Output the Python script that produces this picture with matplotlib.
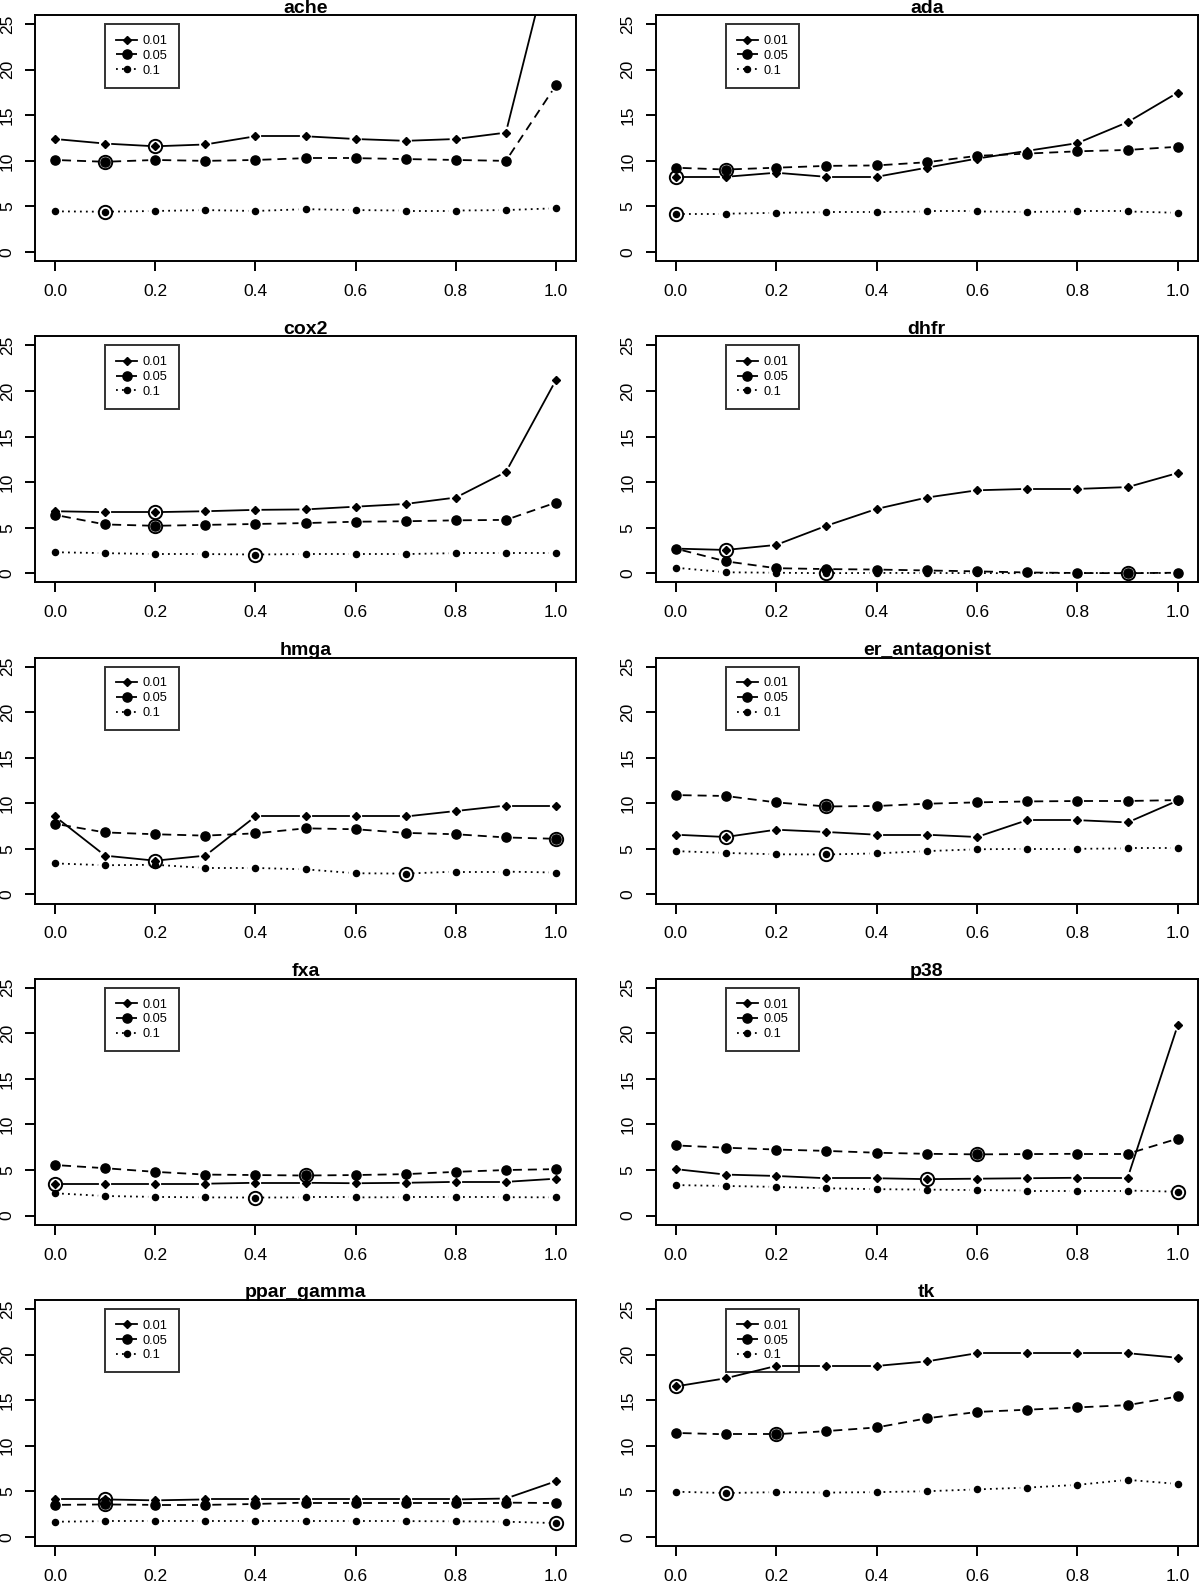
#small multiples of the three alpha runs, R style (type="b")
import numpy as np
import matplotlib
matplotlib.use("Agg")
import matplotlib.pyplot as plt
from matplotlib.lines import Line2D

plt.rcParams['font.family'] = ['Liberation Sans', 'DejaVu Sans']
plt.rcParams['lines.scale_dashes'] = False

x = [0.0, 0.1, 0.2, 0.3, 0.4, 0.5, 0.6, 0.7, 0.8, 0.9, 1.0]
xticks = [0.0, 0.2, 0.4, 0.6, 0.8, 1.0]
xtick_labels = ["0.0", "0.2", "0.4", "0.6", "0.8", "1.0"]
yticks = [0, 5, 10, 15, 20, 25]
series_labels = ["0.01", "0.05", "0.1"]

#values per data set: one list per alpha
ache_001 = [12.4, 11.9, 11.6, 11.8, 12.7, 12.7, 12.4, 12.2, 12.4, 13.1, 35.0]
ache_005 = [10.1, 9.9, 10.1, 10.0, 10.1, 10.3, 10.3, 10.2, 10.1, 10.0, 18.3]
ache_010 = [4.46, 4.42, 4.5, 4.6, 4.5, 4.7, 4.6, 4.55, 4.55, 4.6, 4.8]
ache_best = [2, 1, 1]

ada_001 = [8.25, 8.25, 8.7, 8.25, 8.25, 9.25, 10.25, 11.1, 11.95, 14.25, 17.5]
ada_005 = [9.25, 9.05, 9.25, 9.45, 9.5, 9.85, 10.55, 10.8, 11.05, 11.2, 11.55]
ada_010 = [4.2, 4.2, 4.3, 4.37, 4.37, 4.45, 4.45, 4.4, 4.45, 4.45, 4.3]
ada_best = [0, 1, 0]

cox2_001 = [6.8, 6.7, 6.7, 6.8, 6.95, 7.0, 7.3, 7.6, 8.3, 11.1, 21.2]
cox2_005 = [6.4, 5.35, 5.2, 5.3, 5.4, 5.5, 5.65, 5.7, 5.8, 5.85, 7.75]
cox2_010 = [2.3, 2.2, 2.1, 2.1, 2.05, 2.1, 2.1, 2.1, 2.2, 2.2, 2.2]
cox2_best = [2, 2, 4]

dhfr_001 = [2.7, 2.55, 3.1, 5.2, 7.05, 8.3, 9.1, 9.25, 9.25, 9.45, 11.0]
dhfr_005 = [2.7, 1.3, 0.55, 0.45, 0.4, 0.3, 0.2, 0.08, 0.02, 0.0, 0.05]
dhfr_010 = [0.6, 0.1, 0.05, 0.0, 0.03, 0.02, 0.01, 0.0, 0.0, 0.0, 0.0]
dhfr_best = [1, 9, 3]

hmga_001 = [8.55, 4.25, 3.7, 4.25, 8.55, 8.55, 8.55, 8.55, 9.15, 9.75, 9.75]
hmga_005 = [7.75, 6.8, 6.6, 6.45, 6.7, 7.25, 7.15, 6.75, 6.6, 6.25, 6.1]
hmga_010 = [3.4, 3.2, 3.25, 2.9, 2.9, 2.75, 2.32, 2.28, 2.5, 2.5, 2.4]
hmga_best = [2, 10, 7]

er_001 = [6.55, 6.3, 7.1, 6.85, 6.55, 6.55, 6.3, 8.15, 8.15, 7.9, 10.3]
er_005 = [10.9, 10.8, 10.1, 9.65, 9.7, 9.95, 10.1, 10.2, 10.25, 10.25, 10.35]
er_010 = [4.75, 4.55, 4.4, 4.38, 4.5, 4.75, 4.95, 5.0, 5.0, 5.05, 5.05]
er_best = [1, 3, 3]

fxa_001 = [3.5, 3.5, 3.5, 3.5, 3.6, 3.6, 3.55, 3.6, 3.7, 3.7, 4.05]
fxa_005 = [5.55, 5.2, 4.8, 4.5, 4.45, 4.4, 4.45, 4.55, 4.8, 5.0, 5.1]
fxa_010 = [2.45, 2.15, 2.05, 2.0, 1.98, 2.0, 2.0, 2.02, 2.02, 2.02, 2.0]
fxa_best = [0, 5, 4]

p38_001 = [5.1, 4.5, 4.35, 4.1, 4.1, 4.0, 4.05, 4.1, 4.15, 4.15, 20.95]
p38_005 = [7.7, 7.45, 7.25, 7.1, 6.9, 6.78, 6.72, 6.75, 6.78, 6.78, 8.45]
p38_010 = [3.35, 3.25, 3.15, 3.0, 2.9, 2.85, 2.8, 2.75, 2.75, 2.75, 2.62]
p38_best = [5, 6, 10]

ppar_001 = [4.1, 4.1, 4.0, 4.1, 4.1, 4.1, 4.1, 4.1, 4.1, 4.2, 6.1]
ppar_005 = [3.5, 3.55, 3.5, 3.5, 3.6, 3.75, 3.75, 3.75, 3.75, 3.75, 3.7]
ppar_010 = [1.65, 1.72, 1.72, 1.72, 1.72, 1.72, 1.72, 1.72, 1.7, 1.66, 1.5]
ppar_best = [1, 1, 10]

tk_001 = [16.5, 17.4, 18.75, 18.75, 18.75, 19.25, 20.15, 20.15, 20.15, 20.15, 19.65]
tk_005 = [11.4, 11.25, 11.25, 11.6, 12.0, 13.0, 13.7, 13.95, 14.2, 14.45, 15.4]
tk_010 = [4.95, 4.8, 4.9, 4.85, 4.9, 5.0, 5.2, 5.4, 5.7, 6.25, 5.8]
tk_best = [0, 2, 1]

names = ["ache", "ada", "cox2", "dhfr", "hmga", "er_antagonist", "fxa", "p38", "ppar_gamma", "tk"]
panels = [
    (ache_001, ache_005, ache_010, ache_best),
    (ada_001, ada_005, ada_010, ada_best),
    (cox2_001, cox2_005, cox2_010, cox2_best),
    (dhfr_001, dhfr_005, dhfr_010, dhfr_best),
    (hmga_001, hmga_005, hmga_010, hmga_best),
    (er_001, er_005, er_010, er_best),
    (fxa_001, fxa_005, fxa_010, fxa_best),
    (p38_001, p38_005, p38_010, p38_best),
    (ppar_001, ppar_005, ppar_010, ppar_best),
    (tk_001, tk_005, tk_010, tk_best),
]

# line style, marker, marker size for 0.01 / 0.05 / 0.1
styles = [
    ('-', 'D', 3.6),
    ((0, (6.5, 4.3)), 'o', 6.6),
    ((0, (1.3, 3.0)), 'o', 4.4),
]
LW = 1.3
GAP = 7.0  # px kept free around each point, like type="b"

W, H = 1200, 1581
fig = plt.figure(figsize=(W / 100, H / 100), dpi=100)


def gapped_line(ax, xs, ys, ls):
    pts = ax.transData.transform(np.column_stack([xs, ys]))
    inv = ax.transData.inverted()
    for p0, p1 in zip(pts[:-1], pts[1:]):
        d = p1 - p0
        L = np.hypot(d[0], d[1])
        if L <= 2 * GAP:
            continue
        u = d / L
        a, b = inv.transform(np.array([p0 + u * GAP, p1 - u * GAP]))
        ax.plot([a[0], b[0]], [a[1], b[1]], color='black', lw=LW, linestyle=ls)


for i, (name, panel) in enumerate(zip(names, panels)):
    row, col = i // 2, i % 2
    left_px = 35.0 if col == 0 else 655.5
    width_px = 541.0 if col == 0 else 542.5
    bottom_px = 261.1 + 321.2 * row
    ax = fig.add_axes([left_px / W, 1 - bottom_px / H, width_px / W, 246.0 / H])
    ax.set_xlim(-0.04, 1.04)
    ax.set_ylim(-1, 26)

    for ys, (ls, mk, ms) in zip(panel[:3], styles):
        gapped_line(ax, x, ys, ls)
        ax.plot(x, ys, linestyle='none', marker=mk, ms=ms, color='black')
    for ys, k in zip(panel[:3], panel[3]):
        ax.plot(x[k], ys[k], linestyle='none', marker='o', ms=9.6, mfc='none',
                mec='black', mew=1.4)

    ax.set_xticks(xticks)
    ax.set_xticklabels(xtick_labels)
    ax.set_yticks(yticks)
    ax.set_yticklabels([str(v) for v in yticks], rotation=90, va='center')
    ax.tick_params(direction='out', length=7.5, width=1.4, labelsize=12.5)
    ax.tick_params(axis='x', pad=9)
    ax.tick_params(axis='y', pad=7)
    for sp in ax.spines.values():
        sp.set_linewidth(1.4)
    ax.set_title(name, fontweight='bold', fontsize=14, y=1.0, pad=1.8)

    handles = [Line2D([], [], color='black', lw=LW, linestyle=ls, marker=mk, ms=ms)
               for ls, mk, ms in styles]
    leg = ax.legend(handles, series_labels, loc='upper left',
                    bbox_to_anchor=(0.1, 25), bbox_transform=ax.transData,
                    fontsize=9.2, frameon=True, fancybox=False,
                    facecolor='none', edgecolor='black', borderaxespad=0,
                    borderpad=0.85, handlelength=1.65, handletextpad=0.45,
                    labelspacing=0.22)
    leg.get_frame().set_linewidth(1.4)

fig.savefig("out.png", dpi=100)
